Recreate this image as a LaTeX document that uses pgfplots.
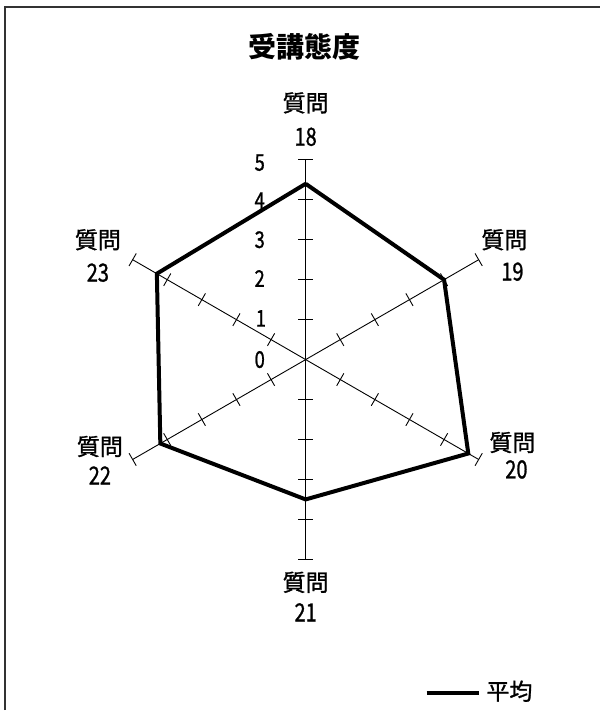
\documentclass[border=0pt]{standalone}
\usepackage{fontspec}
\setmainfont{Noto Sans CJK JP}
\newfontfamily\labf[FakeBold=1.2]{Noto Sans CJK JP}
\newfontfamily\numf[FakeStretch=0.8,FakeBold=1]{Noto Sans CJK JP}
\usepackage{pgfplots}
\pgfplotsset{compat=1.18}
\begin{document}
\begin{tikzpicture}
\begin{axis}[
  x=40pt, y=40pt,
  xmin=-7.65, xmax=7.375, ymin=-8.775, ymax=9,
  scale only axis, hide axis, clip=false,
]
% frame (left and top edges)
\draw[line width=1.6pt, black!80] (axis cs:-7.525,-8.775) -- (axis cs:-7.525,8.825) -- (axis cs:7.37,8.825);
% spokes and ticks
\pgfplotsinvokeforeach{90,30,-30,-90,-150,150}{
  \addplot[black, line width=0.9pt, data cs=polar] coordinates {(#1,0) (#1,5)};
  \draw[black, line width=0.9pt, rotate around={#1:(axis cs:0,0)}]
    (axis cs:1,-0.18) -- (axis cs:1,0.18)
    (axis cs:2,-0.18) -- (axis cs:2,0.18)
    (axis cs:3,-0.18) -- (axis cs:3,0.18)
    (axis cs:4,-0.18) -- (axis cs:4,0.18)
    (axis cs:5,-0.18) -- (axis cs:5,0.18);
}
% data
\addplot[black, line width=4pt, line join=miter, data cs=polar] coordinates {
  (90,4.4) (30,4.0) (-30,4.7) (-90,3.5) (-150,4.2) (150,4.3) (90,4.4)
};
% tick labels
\node[font=\fontsize{23}{25}\selectfont\numf] at (axis cs:-1.15,0) {0};
\node[font=\fontsize{23}{25}\selectfont\numf] at (axis cs:-1.12,1.03) {1};
\node[font=\fontsize{23}{25}\selectfont\numf] at (axis cs:-1.15,2.03) {2};
\node[font=\fontsize{23}{25}\selectfont\numf] at (axis cs:-1.15,3.0) {3};
\node[font=\fontsize{23}{25}\selectfont\numf] at (axis cs:-1.15,3.98) {4};
\node[font=\fontsize{23}{25}\selectfont\numf] at (axis cs:-1.15,4.93) {5};
% title
\node[font=\fontsize{28}{30}\selectfont\bfseries] at (axis cs:-0.025,7.825) {受講態度};
% category labels
\node[font=\fontsize{23}{25}\selectfont\labf] at (axis cs:0,6.425) {質問};
\node[font=\fontsize{25}{27}\selectfont\numf] at (axis cs:0,5.575) {18};
\node[font=\fontsize{23}{25}\selectfont\labf] at (axis cs:4.975,3.0) {質問};
\node[font=\fontsize{25}{27}\selectfont\numf] at (axis cs:5.175,2.2) {19};
\node[font=\fontsize{23}{25}\selectfont\labf] at (axis cs:5.175,-2.075) {質問};
\node[font=\fontsize{25}{27}\selectfont\numf] at (axis cs:5.275,-2.75) {20};
\node[font=\fontsize{23}{25}\selectfont\labf] at (axis cs:0,-5.575) {質問};
\node[font=\fontsize{25}{27}\selectfont\numf] at (axis cs:0,-6.325) {21};
\node[font=\fontsize{23}{25}\selectfont\labf] at (axis cs:-5.15,-2.175) {質問};
\node[font=\fontsize{25}{27}\selectfont\numf] at (axis cs:-5.15,-2.9) {22};
\node[font=\fontsize{23}{25}\selectfont\labf] at (axis cs:-5.2,3.0) {質問};
\node[font=\fontsize{25}{27}\selectfont\numf] at (axis cs:-5.2,2.175) {23};
% legend
\draw[black, line width=4pt] (axis cs:3.025,-8.35) -- (axis cs:4.35,-8.35);
\node[font=\fontsize{23}{25}\selectfont\labf] at (axis cs:5.1,-8.3) {平均};
\end{axis}
\path (current axis.south west) rectangle (current axis.north east);
\end{tikzpicture}
\end{document}
